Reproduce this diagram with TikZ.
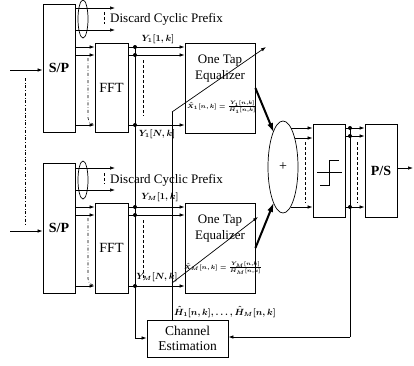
\documentclass[tikz,border=0pt]{standalone}
\usepackage{fontspec}
\setmainfont{Liberation Serif}
\usepackage{amsmath}
\usetikzlibrary{arrows.meta,shapes.geometric}
\begin{document}
\begin{tikzpicture}[x=1pt,y=-1pt,
  box/.style={draw,line width=0.8pt,inner sep=0pt},
  arr/.style={-{Latex[length=5pt,width=3.5pt]},line width=0.7pt},
  thk/.style={-{Latex[length=10pt,width=6pt]},line width=2pt},
  ln/.style={line width=0.7pt},
  dsh/.style={densely dashed,line width=0.6pt},
  dd/.style={dash dot,line width=0.6pt},
  dot/.style={circle,fill,inner sep=0pt,minimum size=4pt},
  lab/.style={font=\fontsize{9}{10}\selectfont,inner sep=0pt},
  txt/.style={font=\fontsize{13}{13}\selectfont,inner sep=0pt,align=center}]
\useasboundingbox (0,0) rectangle (414,365);
% boxes
\node[box,minimum width=32pt,minimum height=128pt] (sp1) at (59,68) {};
\node[box,minimum width=32pt,minimum height=130pt] (sp2) at (59,228) {};
\node[font=\fontsize{14}{14}\selectfont\bfseries] at (sp1) {S/P};
\node[font=\fontsize{14}{14}\selectfont\bfseries] at (sp2) {S/P};
\node[box,minimum width=33pt,minimum height=89pt,font=\fontsize{14}{14}\selectfont] (fft1) at (111.5,87.5) {FFT};
\node[box,minimum width=33pt,minimum height=90pt,font=\fontsize{14}{14}\selectfont] (fft2) at (111.5,248) {FFT};
\node[box,minimum width=70pt,minimum height=90pt] (eq1) at (220,88) {};
\node[box,minimum width=70pt,minimum height=90pt] (eq2) at (220,248) {};
\node[txt] at (220,69) {One Tap\\[3pt]Equalizer};
\node[txt] at (220,229) {One Tap\\[3pt]Equalizer};
\node[inner sep=0pt,font=\fontsize{6}{7}\selectfont] (f1) at (222,107) {$\boldsymbol{\hat{X}_1[n,k]=\frac{Y_1[n,k]}{\hat{H}_1[n,k]}}$};
\node[inner sep=0pt,font=\fontsize{6}{7}\selectfont] (f2) at (223,268) {$\boldsymbol{\hat{X}_M[n,k]=\frac{Y_M[n,k]}{\hat{H}_M[n,k]}}$};
\node[draw,ellipse,line width=0.7pt,minimum width=30pt,minimum height=92pt,inner sep=0pt,font=\fontsize{14}{14}\selectfont] (sum) at (283,167) {+};
\node[box,minimum width=32pt,minimum height=93pt] (dec) at (329,170.5) {};
\node[box,minimum width=32pt,minimum height=93pt,font=\fontsize{14}{14}\selectfont\bfseries] (ps) at (381,170.5) {P/S};
\node[box,minimum width=81pt,minimum height=37pt,txt,font=\fontsize{13.5}{15}\selectfont] (ce) at (187.5,338.5) {Channel\\Estimation};
% hard limiter symbol
\draw[ln] (317,172) -- (342,172);
\draw[ln] (320,185) -- (329,185) -- (329,160) -- (339,160);
% inputs
\coordinate (in1) at (10,70);
\coordinate (in2) at (10,231);
\draw[arr] (in1) -- (sp1.west |- in1);
\draw[arr] (in2) -- (sp2.west |- in2);
\draw[dd] (25,78) -- (25,224);
% discard cyclic prefix (top)
\coordinate (dc1a) at (115,8);
\coordinate (dc1b) at (115,30);
\draw[arr] (sp1.east |- dc1a) -- (dc1a);
\draw[arr] (sp1.east |- dc1b) -- (dc1b);
\draw[ln] (83,19) ellipse (5pt and 19pt);
\draw[dsh] (104,12) -- (104,24);
\node[txt,anchor=west,font=\fontsize{13}{13}\selectfont] at (110,19) {Discard Cyclic Prefix};
% discard cyclic prefix (bottom)
\coordinate (dc2a) at (115,168);
\coordinate (dc2b) at (115,190);
\draw[arr] (sp2.east |- dc2a) -- (dc2a);
\draw[arr] (sp2.east |- dc2b) -- (dc2b);
\draw[ln] (83,180) ellipse (5pt and 19pt);
\draw[dsh] (104,173) -- (104,184);
\node[txt,anchor=west,font=\fontsize{13}{13}\selectfont] at (110,180) {Discard Cyclic Prefix};
% S/P -> FFT
\foreach \y in {47,55,125} {\draw[arr] (sp1.east |- 0,\y) -- (fft1.west |- 0,\y);}
\foreach \y in {207,215,286} {\draw[arr] (sp2.east |- 0,\y) -- (fft2.west |- 0,\y);}
\draw[dd] (88,58) -- (88,118) to[out=-90,in=180] (93,124);
\draw[dd] (88,218) -- (88,279) to[out=-90,in=180] (93,285);
% FFT -> Equalizer
\foreach \y in {47,55,125} {\draw[arr] (fft1.east |- 0,\y) -- (eq1.west |- 0,\y); \node[dot] at (135,\y) {};}
\foreach \y in {207,215,286} {\draw[arr] (fft2.east |- 0,\y) -- (eq2.west |- 0,\y); \node[dot] at (135,\y) {};}
\draw[dsh] (143,60) -- (143,116);
\draw[dsh] (143,220) -- (143,280);
\node[lab] at (158,39) {$\boldsymbol{Y_1[1,k]}$};
\node[lab] at (157,134) {$\boldsymbol{Y_1[N,k]}$};
\node[lab] at (160,197) {$\boldsymbol{Y_M[1,k]}$};
\node[lab] at (157,277) {$\boldsymbol{Y_M[N,k]}$};
% feed to channel estimation
\coordinate (cel) at (135,338);
\draw[ln] (135,47) -- (cel);
\draw[arr] (cel) -- (ce.west |- cel);
% channel estimate lines
\coordinate (h1) at (172,112);
\coordinate (h2) at (172,283);
\draw[ln] (ce.north -| h1) -- (h1);
\draw[arr] (h1) -- (266,47);
\draw[arr] (h2) -- (258,217);
\node[lab,anchor=west] at (174,312) {$\boldsymbol{\hat{H}_1[n,k],\ldots,\hat{H}_M[n,k]}$};
% equalizer -> sum
\draw[thk] (eq1.east |- 0,88) -- (274,133);
\draw[thk] (eq2.east |- 0,248) -- (274,202);
% sum -> decision
\draw[arr] (291,128) -- (dec.west |- 0,128);
\draw[arr] (294.5,138) -- (dec.west |- 0,138);
\draw[arr] (290.5,207) -- (dec.west |- 0,207);
\draw[dsh] (305,142) -- (305,203);
% decision -> P/S
\foreach \y in {128,136,207} {\draw[arr] (dec.east |- 0,\y) -- (ps.west |- 0,\y); \node[dot] at (350,\y) {};}
\draw[dsh] (357,142) -- (357,203);
% feedback
\coordinate (fb) at (350,337);
\draw[ln] (350,128) -- (fb);
\draw[arr] (fb) -- (ce.east |- fb);
% output
\coordinate (out) at (413,168);
\draw[arr] (ps.east |- out) -- (out);
\end{tikzpicture}
\end{document}
